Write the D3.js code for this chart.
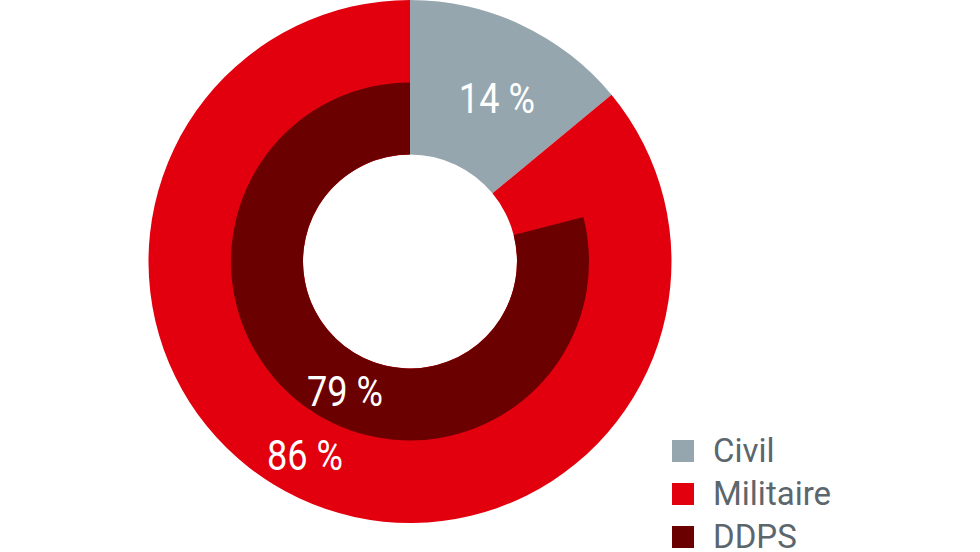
<!DOCTYPE html>
<html>
<head>
<meta charset="utf-8">
<script src="https://cdn.jsdelivr.net/npm/d3@7"></script>
<style>
  html, body { margin: 0; padding: 0; background: #fff; }
  svg { display: block; font-family: Roboto, "Noto Sans", sans-serif; }
</style>
</head>
<body>
<div id="chart"></div>
<script>
const WIDTH = 980;
const HEIGHT = 552;

// outer ring: civil vs military
const outerCategories = ["Civil", "Militaire"];
const outerValues = [14, 86];
// inner ring: DDPS share, rest left empty
const innerCategories = ["", "DDPS"];
const innerValues = [21, 79];

const legendLabels = ["Civil", "Militaire", "DDPS"];
const colors = { "Civil": "#95a6af", "Militaire": "#e2000f", "DDPS": "#6b0000" };

const cx = 410, cy = 261.5;
const rHole = 107, rInner = 179, rOuter = 261.5;

let svg = d3.select("#chart").append("svg")
    .attr("width", WIDTH)
    .attr("height", HEIGHT);

let g = svg.append("g").attr("transform", "translate(" + cx + "," + cy + ")");

let pie = d3.pie().sort(null).value(function(d) { return d.value; });

// outer donut
let outerData = pie(outerCategories.map(function(c, i) { return { key: c, value: outerValues[i] }; }));
let outerArc = d3.arc().innerRadius(rHole).outerRadius(rOuter);
g.append("g").classed("outer", true)
  .selectAll("path").data(outerData).enter()
  .append("path")
    .attr("d", outerArc)
    .attr("fill", function(d) { return colors[d.data.key]; });

// inner ring, only the DDPS part is painted
let innerData = pie(innerCategories.map(function(c, i) { return { key: c, value: innerValues[i] }; }))
    .filter(function(d) { return d.data.key !== ""; });
let innerArc = d3.arc().innerRadius(rHole).outerRadius(rInner);
g.append("g").classed("inner", true)
  .selectAll("path").data(innerData).enter()
  .append("path")
    .attr("d", innerArc)
    .attr("fill", function(d) { return colors[d.data.key]; });

// value labels
function polar(angleDeg, r) {
  let a = angleDeg * Math.PI / 180;
  return [r * Math.sin(a), -r * Math.cos(a)];
}
let labels = [
  { text: outerValues[0] + " %", pos: polar(28, 185) },
  { text: innerValues[1] + " %", pos: polar(206.6, 145) },
  { text: outerValues[1] + " %", pos: polar(208.5, 220) }
];
g.append("g").classed("labels", true)
  .selectAll("text").data(labels).enter()
  .append("text")
    .attr("transform", function(d) { return "translate(" + d.pos[0] + "," + d.pos[1] + ") scale(0.86,1)"; })
    .attr("text-anchor", "middle")
    .attr("dy", "0.36em")
    .style("font-size", "42px")
    .style("fill", "#fff")
    .text(function(d) { return d.text; });

// legend
let legend = svg.append("g").classed("legend", true)
    .attr("transform", "translate(672,440)");
let items = legend.selectAll("g").data(legendLabels).enter()
  .append("g")
    .attr("transform", function(d, i) { return "translate(0," + (i * 43) + ")"; });
items.append("rect")
    .attr("width", 22)
    .attr("height", 22)
    .attr("fill", function(d) { return colors[d]; });
items.append("text")
    .attr("x", 41)
    .attr("y", 22)
    .style("font-size", "33px")
    .style("fill", "#5b666d")
    .text(function(d) { return d; });
</script>
</body>
</html>
